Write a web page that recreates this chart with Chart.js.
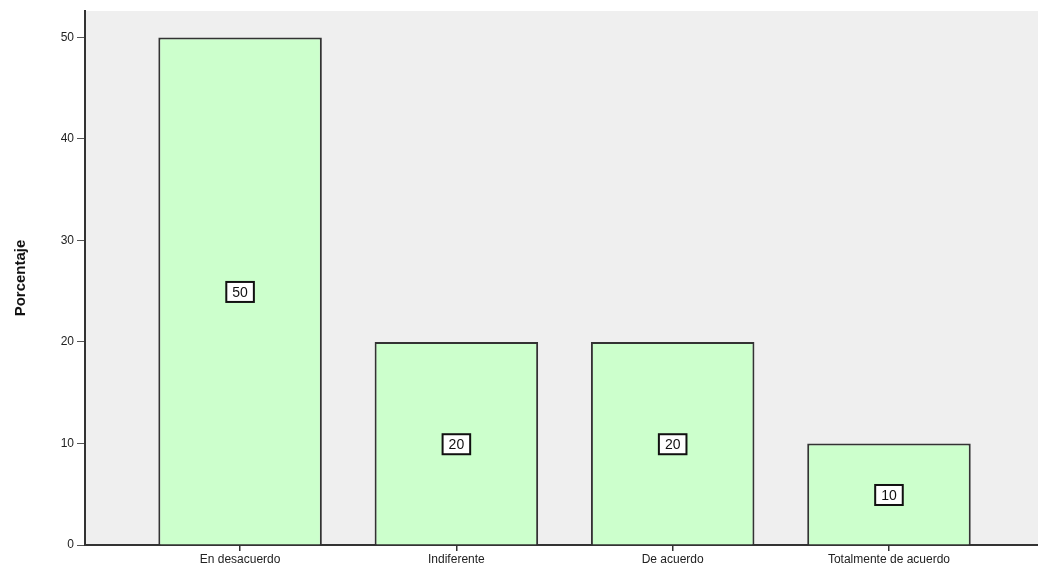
<!DOCTYPE html>
<html>
<head>
<meta charset="utf-8">
<script src="https://cdn.jsdelivr.net/npm/chart.js@4/dist/chart.umd.min.js"></script>
<style>
  html, body { margin: 0; padding: 0; background: #ffffff; }
  #wrap { width: 1038px; height: 572px; position: relative; }
</style>
</head>
<body>
<div id="wrap"><canvas id="chart" width="1038" height="572"></canvas></div>
<script>
// Response categories and their percentages
const categories = ['En desacuerdo', 'Indiferente', 'De acuerdo', 'Totalmente de acuerdo'];
const percentages = [50, 20, 20, 10];
const yTicks = [0, 10, 20, 30, 40, 50];

// Grey panel behind the plot area
const panelBackground = {
  id: 'panelBackground',
  beforeDraw(chart) {
    const { ctx, chartArea: a } = chart;
    ctx.save();
    ctx.fillStyle = '#efefef';
    ctx.fillRect(a.left, a.top, a.right - a.left, a.bottom - a.top);
    ctx.restore();
  }
};

// Boxed value labels centred inside each bar
const boxedLabels = {
  id: 'boxedLabels',
  afterDatasetsDraw(chart) {
    const { ctx } = chart;
    const meta = chart.getDatasetMeta(0);
    ctx.save();
    ctx.font = '14px "Liberation Sans", Arial, sans-serif';
    ctx.textAlign = 'center';
    ctx.textBaseline = 'middle';
    meta.data.forEach((bar, i) => {
      const text = String(percentages[i]);
      const cx = bar.x;
      const cy = (bar.y + bar.base) / 2 + 1;
      const w = ctx.measureText(text).width + 12;
      const h = 20;
      ctx.fillStyle = '#ffffff';
      ctx.fillRect(cx - w / 2, cy - h / 2, w, h);
      ctx.strokeStyle = '#111111';
      ctx.lineWidth = 2;
      ctx.strokeRect(cx - w / 2, cy - h / 2, w, h);
      ctx.fillStyle = '#111111';
      ctx.fillText(text, cx, cy + 1);
    });
    ctx.restore();
  }
};

new Chart(document.getElementById('chart'), {
  type: 'bar',
  data: {
    datasets: [{
      data: percentages.map((v, i) => ({ x: i, y: v })),
      backgroundColor: '#ccffcc',
      borderColor: '#333333',
      borderWidth: 2,
      borderSkipped: 'start',
      barPercentage: 0.756,
      categoryPercentage: 1
    }]
  },
  options: {
    responsive: false,
    animation: false,
    devicePixelRatio: 1,
    layout: { padding: { top: 11, right: 0, bottom: 0, left: 0 } },
    plugins: {
      legend: { display: false },
      tooltip: { enabled: false }
    },
    scales: {
      x: {
        type: 'linear',
        offset: false,
        min: -0.717,
        max: 3.689,
        afterBuildTicks(scale) {
          scale.ticks = categories.map((c, i) => ({ value: i }));
        },
        afterFit(scale) { scale.height = 27; },
        ticks: {
          callback: (v) => categories[v] ?? '',
          color: '#222222',
          font: { size: 12, family: '"Liberation Sans", Arial, sans-serif' },
          padding: 1,
          maxRotation: 0,
          autoSkip: false
        },
        grid: {
          offset: false,
          drawOnChartArea: false,
          drawTicks: true,
          tickLength: 6,
          color: '#333333',
          lineWidth: 1.5
        },
        border: { color: '#333333', width: 2 }
      },
      y: {
        min: 0,
        max: 52.6,
        afterBuildTicks(scale) {
          scale.ticks = yTicks.map(v => ({ value: v }));
        },
        afterFit(scale) { scale.width = 85; },
        ticks: {
          color: '#222222',
          font: { size: 12, family: '"Liberation Sans", Arial, sans-serif' },
          padding: 3
        },
        grid: {
          drawOnChartArea: false,
          drawTicks: true,
          tickLength: 8,
          color: '#555555',
          lineWidth: 1
        },
        border: { color: '#333333', width: 2 },
        title: {
          display: true,
          text: 'Porcentaje',
          color: '#111111',
          font: { size: 15, weight: 'bold', family: '"Liberation Sans Narrow", "Liberation Sans", Arial, sans-serif' },
          padding: { top: 12, bottom: 0 }
        }
      }
    }
  },
  plugins: [panelBackground, boxedLabels]
});
</script>
</body>
</html>
